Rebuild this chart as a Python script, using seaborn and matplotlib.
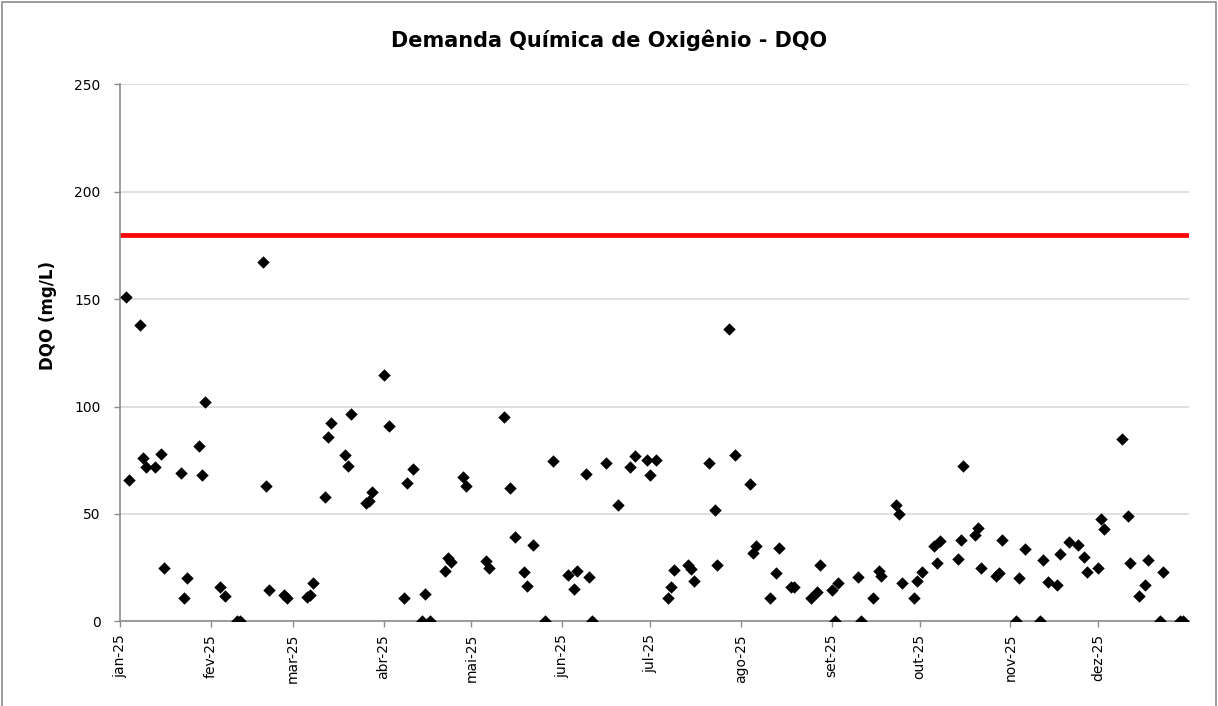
import numpy as np
import pandas as pd
import matplotlib
matplotlib.use("Agg")
import matplotlib.pyplot as plt
import matplotlib.dates as mdates
from matplotlib.patches import Rectangle
import seaborn as sns

sns.set_style("white")
plt.rcParams['font.family'] = ['DejaVu Sans']
plt.rcParams['text.color'] = 'black'
plt.rcParams['axes.labelcolor'] = 'black'

# amostras de DQO (mg/L)
datas = [
    "2025-01-03", "2025-01-04", "2025-01-08", "2025-01-09", "2025-01-10", "2025-01-13",
    "2025-01-15", "2025-01-16", "2025-01-22", "2025-01-23", "2025-01-24", "2025-01-28",
    "2025-01-29", "2025-01-30", "2025-02-04", "2025-02-06", "2025-02-10", "2025-02-11",
    "2025-02-19", "2025-02-20", "2025-02-21", "2025-02-26", "2025-02-27", "2025-03-06",
    "2025-03-07", "2025-03-08", "2025-03-12", "2025-03-13", "2025-03-14", "2025-03-19",
    "2025-03-20", "2025-03-21", "2025-03-26", "2025-03-27", "2025-03-28", "2025-04-01",
    "2025-04-03", "2025-04-08", "2025-04-09", "2025-04-11", "2025-04-14", "2025-04-15",
    "2025-04-17", "2025-04-22", "2025-04-23", "2025-04-24", "2025-04-28", "2025-04-29",
    "2025-05-06", "2025-05-07", "2025-05-12", "2025-05-14", "2025-05-16", "2025-05-19",
    "2025-05-20", "2025-05-22", "2025-05-26", "2025-05-29", "2025-06-03", "2025-06-05",
    "2025-06-06", "2025-06-09", "2025-06-10", "2025-06-11", "2025-06-16", "2025-06-20",
    "2025-06-24", "2025-06-26", "2025-06-30", "2025-07-01", "2025-07-03", "2025-07-07",
    "2025-07-08", "2025-07-09", "2025-07-14", "2025-07-15", "2025-07-16", "2025-07-21",
    "2025-07-23", "2025-07-24", "2025-07-28", "2025-07-30", "2025-08-04", "2025-08-05",
    "2025-08-06", "2025-08-11", "2025-08-13", "2025-08-14", "2025-08-18", "2025-08-19",
    "2025-08-25", "2025-08-27", "2025-08-28", "2025-09-01", "2025-09-02", "2025-09-03",
    "2025-09-10", "2025-09-11", "2025-09-15", "2025-09-17", "2025-09-18", "2025-09-23",
    "2025-09-24", "2025-09-25", "2025-09-29", "2025-09-30", "2025-10-02", "2025-10-06",
    "2025-10-07", "2025-10-08", "2025-10-14", "2025-10-15", "2025-10-16", "2025-10-20",
    "2025-10-21", "2025-10-22", "2025-10-27", "2025-10-28", "2025-10-29", "2025-11-03",
    "2025-11-04", "2025-11-06", "2025-11-11", "2025-11-12", "2025-11-14", "2025-11-17",
    "2025-11-18", "2025-11-21", "2025-11-24", "2025-11-26", "2025-11-27", "2025-12-01",
    "2025-12-02", "2025-12-03", "2025-12-09", "2025-12-11", "2025-12-12", "2025-12-15",
    "2025-12-17", "2025-12-18", "2025-12-22", "2025-12-23", "2025-12-29", "2025-12-30",
]
dqo = [
    151, 66, 138, 76, 72, 72,
    78, 25, 69, 11, 20, 81.5,
    68, 102, 16, 12, 0, 0,
    167, 63, 14.5, 12.5, 11, 11.5,
    12.5, 18, 58, 86, 92.5, 77.5,
    72.5, 96.5, 55, 56, 60, 114.5,
    91, 11, 64.5, 71, 0, 13,
    0, 23.5, 29.5, 27.5, 67, 63,
    28, 25, 95, 62, 39.5, 23,
    16.5, 35.5, 0, 74.5, 21.5, 15,
    23.5, 68.5, 20.5, 0, 73.5, 54,
    72, 77, 75, 68, 75, 11,
    16, 24, 26.5, 24.5, 19, 73.5,
    52, 26.5, 136, 77.5, 64, 32,
    35, 11, 22.5, 34, 16, 16,
    11, 13.5, 26.5, 14.5, 0, 18,
    20.5, 0, 11, 23.5, 21, 54,
    50, 18, 11, 19, 23, 35,
    27, 37.5, 29, 38, 72.5, 40,
    43.5, 25, 21, 22.5, 38, 0,
    20, 33.5, 0, 28.5, 18.5, 17,
    31.5, 37, 35.5, 30, 23, 25,
    47.5, 43, 85, 49, 27, 12,
    17, 28.5, 0, 23, 0, 0,
]
limite = 180
meses = ["2025-01-01", "2025-02-01", "2025-03-01", "2025-04-01", "2025-05-01", "2025-06-01",
         "2025-07-01", "2025-08-01", "2025-09-01", "2025-10-01", "2025-11-01", "2025-12-01"]
rotulos_meses = ["jan-25", "fev-25", "mar-25", "abr-25", "mai-25", "jun-25",
                 "jul-25", "ago-25", "set-25", "out-25", "nov-25", "dez-25"]

df = pd.DataFrame({"data": pd.to_datetime(datas), "dqo": dqo})

fig = plt.figure(figsize=(12.18, 7.06), dpi=100)
ax = fig.add_axes([0.0985, 0.1197, 0.8777, 0.7613])

ax.axhline(limite, color="#ff0000", lw=3.4, zorder=2)
sns.scatterplot(data=df, x="data", y="dqo", marker="D", s=40, color="black",
                linewidth=0, ax=ax, zorder=3)

ax.set_xlim(pd.Timestamp("2025-01-01"), pd.Timestamp("2026-01-01"))
ax.set_ylim(0, 250)
ax.set_yticks([0, 50, 100, 150, 200, 250])
ax.set_xticks(pd.to_datetime(meses))
ax.set_xticklabels(rotulos_meses, rotation=90)

ax.yaxis.grid(True, color="#d9d9d9", lw=1.2)
ax.set_axisbelow(True)
for s in ["top", "right"]:
    ax.spines[s].set_visible(False)
for s in ["left", "bottom"]:
    ax.spines[s].set_color("#8c8c8c")
    ax.spines[s].set_linewidth(1.2)
ax.tick_params(axis="both", which="both", direction="out", length=4, width=1,
               color="#8c8c8c", labelsize=10, labelcolor="black", left=True, bottom=True)
ax.tick_params(axis="y", pad=10)
ax.tick_params(axis="x", pad=5)

ax.set_xlabel("")
ax.set_ylabel("")
fig.text(0.039, 0.553, "DQO (mg/L)", rotation=90, ha="center", va="center",
         fontsize=12, fontweight="bold", color="black")
fig.text(0.5, 0.943, "Demanda Química de Oxigênio - DQO", ha="center", va="center",
         fontsize=15, fontweight="bold", color="black")

fig.patches.append(Rectangle((0.002, -0.05), 0.996, 1.047, transform=fig.transFigure,
                             fill=False, edgecolor="#8c8c8c", lw=1.2))

fig.savefig("out.png", dpi=100)
